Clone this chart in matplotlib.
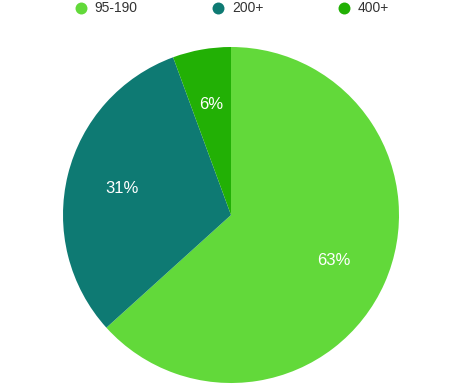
import matplotlib.pyplot as plt
from matplotlib.lines import Line2D

plt.rcParams['font.family'] = ['Liberation Sans', 'DejaVu Sans']

labels = ['95-190', '200+', '400+']
shares = [63.3, 31.1, 5.6]
colors = ['#62d93a', '#0e7a73', '#22b005']

W, H = 462, 384
cx, cy, r = 231, 215, 168  # pie centre / radius in pixels

fig = plt.figure(figsize=(W / 100, H / 100), dpi=100)
ax = fig.add_axes([0, 0, 1, 1])

wedges, texts, autotexts = ax.pie(
    shares, colors=colors, startangle=90, counterclock=False,
    autopct='%.0f%%', pctdistance=0.67, radius=1,
    wedgeprops=dict(linewidth=0),
    textprops=dict(color='white', fontsize=12))

ax.set_xlim(-cx / r, (W - cx) / r)
ax.set_ylim(-(H - cy) / r, cy / r)
ax.set_aspect('auto')
ax.axis('off')

handles = [Line2D([], [], linestyle='none', marker='o', markersize=8.6,
                  markerfacecolor=c, markeredgewidth=0) for c in colors]
leg = fig.legend(handles, labels, loc='center left',
                 bbox_to_anchor=(74 / W, 1 - 8.5 / H), ncol=3, frameon=False,
                 fontsize=10, handlelength=1, handletextpad=0.5,
                 columnspacing=5.3, borderpad=0, borderaxespad=0)
for t in leg.get_texts():
    t.set_color('#333333')

fig.savefig('out.png', dpi=100)
